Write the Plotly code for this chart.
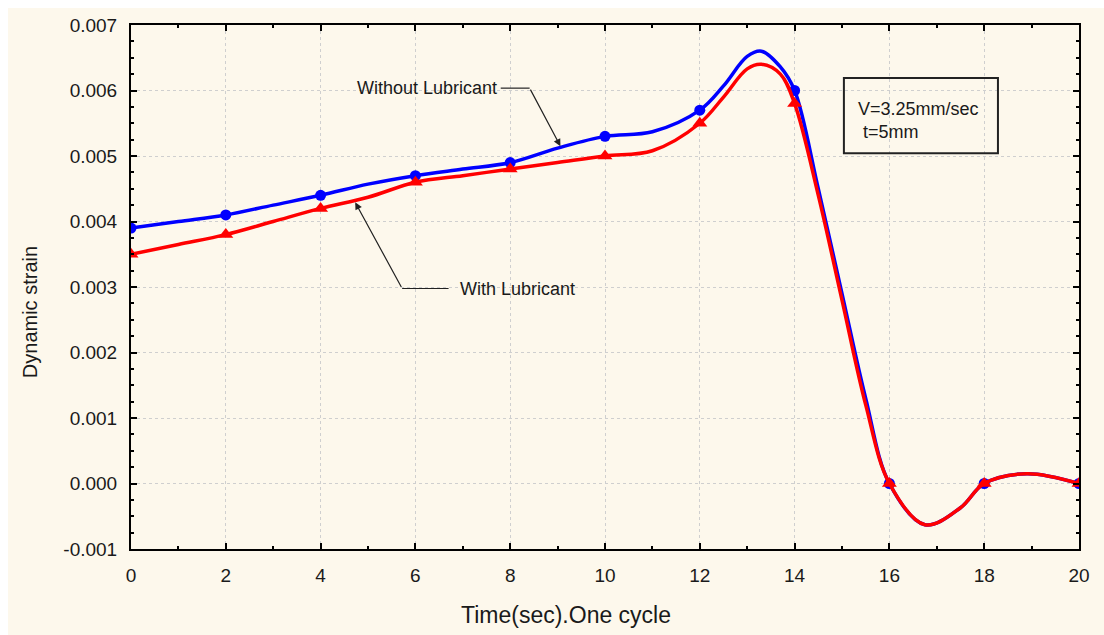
import plotly.graph_objects as go

# Measured points (markers)
marker_x = [0, 2, 4, 6, 8, 10, 12, 14, 16, 18, 20]
without_lub = [0.0039, 0.0041, 0.0044, 0.0047, 0.0049, 0.0053, 0.0057, 0.0060, 0.0, 0.0, 0.0]
with_lub = [0.0035, 0.0038, 0.0042, 0.0046, 0.0048, 0.0050, 0.0055, 0.0058, 0.0, 0.0, 0.0]

# Smoothed curve values
curve_x = [0, 1, 2, 3, 4, 5, 6, 7, 8, 9, 10, 11, 12, 12.5, 13, 13.3, 13.7, 14, 14.5, 15, 15.5,
           16, 16.75, 17.5, 18, 18.9, 20]
without_curve = [0.0039, 0.0040, 0.0041, 0.00425, 0.0044, 0.00457, 0.0047, 0.0048, 0.0049, 0.00512,
                 0.0053, 0.00537, 0.0057, 0.00607, 0.00652, 0.0066, 0.00636, 0.0060, 0.0045, 0.0029,
                 0.0013, 0.0, -0.00063, -0.00037, 0.0, 0.00015, 0.0]
with_curve = [0.0035, 0.00365, 0.0038, 0.0040, 0.0042, 0.00437, 0.0046, 0.0047, 0.0048, 0.0049,
              0.0050, 0.00508, 0.0055, 0.0059, 0.00633, 0.0064, 0.00625, 0.0058, 0.0044, 0.0028,
              0.0012, 0.0, -0.00063, -0.00037, 0.0, 0.00015, 0.0]

x_ticks = list(range(0, 21, 2))
y_ticks = [-0.001, 0.0, 0.001, 0.002, 0.003, 0.004, 0.005, 0.006, 0.007]
y_ticklabels = ["-0.001", "0.000", "0.001", "0.002", "0.003", "0.004", "0.005", "0.006", "0.007"]

BLUE = "#0000FF"
RED = "#FF0000"
FONT = "Liberation Sans, Arial, sans-serif"
TXT = "#1a1a1a"

fig = go.Figure()
fig.add_trace(go.Scatter(x=curve_x, y=without_curve, mode="lines",
                         line=dict(color=BLUE, width=3.5, shape="spline", smoothing=1.0),
                         showlegend=False, hoverinfo="skip"))
fig.add_trace(go.Scatter(x=marker_x, y=without_lub, mode="markers",
                         marker=dict(color=BLUE, size=11, symbol="circle"),
                         name="Without Lubricant", showlegend=False))
fig.add_trace(go.Scatter(x=curve_x, y=with_curve, mode="lines",
                         line=dict(color=RED, width=3.5, shape="spline", smoothing=1.0),
                         showlegend=False, hoverinfo="skip"))
fig.add_trace(go.Scatter(x=marker_x, y=with_lub, mode="markers",
                         marker=dict(color=RED, size=13, symbol="triangle-up"),
                         name="With Lubricant", showlegend=False))

axis_common = dict(
    showline=True, linecolor="black", linewidth=2, mirror="ticks",
    ticks="inside", ticklen=6, tickcolor="black", tickwidth=1.5,
    showgrid=True, gridcolor="#cfcfcf", griddash="dot", gridwidth=1,
    zeroline=False,
    tickfont=dict(family=FONT, size=19, color=TXT),
)

fig.update_xaxes(range=[0, 20], tickvals=x_ticks, **axis_common,
                 minor=dict(dtick=1, ticks="inside", ticklen=3, tickcolor="black", showgrid=False),
                 ticklabelstandoff=8)
fig.update_yaxes(range=[-0.001, 0.007], tickvals=y_ticks, ticktext=y_ticklabels, **axis_common,
                 minor=dict(dtick=0.00025, ticks="inside", ticklen=3, tickcolor="black", showgrid=False),
                 ticklabelstandoff=8)

shapes = [
    # cream background panel
    dict(type="rect", xref="paper", yref="paper", x0=-0.1297, x1=1.05, y0=-0.2, y1=1.0324,
         fillcolor="#FDF8EC", line=dict(width=0), layer="below"),
    # info box
    dict(type="rect", xref="x", yref="y", x0=15.04, x1=18.29, y0=0.005042, y1=0.006189,
         line=dict(color="#222222", width=2), fillcolor="rgba(0,0,0,0)"),
    # leader lines
    dict(type="line", xref="x", yref="y", x0=7.8, x1=8.41, y0=0.006036, y1=0.006036,
         line=dict(color="#222222", width=1.2)),
    dict(type="line", xref="x", yref="y", x0=5.72, x1=6.7, y0=0.002977, y1=0.002977,
         line=dict(color="#222222", width=1.2)),
]

annotations = [
    dict(x=6.25, y=0.006036, xref="x", yref="y", text="Without Lubricant", showarrow=False,
         font=dict(family=FONT, size=18, color=TXT)),
    dict(x=9.06, y=0.00515, xref="x", yref="y", ax=8.41, ay=0.006036, axref="x", ayref="y",
         text="", showarrow=True, arrowhead=2, arrowsize=1.2, arrowwidth=1.2, arrowcolor="#222222"),
    dict(x=8.15, y=0.002977, xref="x", yref="y", text="With Lubricant", showarrow=False,
         font=dict(family=FONT, size=18, color=TXT)),
    dict(x=4.73, y=0.004293, xref="x", yref="y", ax=5.72, ay=0.002977, axref="x", ayref="y",
         text="", showarrow=True, arrowhead=2, arrowsize=1.2, arrowwidth=1.2, arrowcolor="#222222"),
    dict(x=15.29, y=0.005547, xref="x", yref="y", xanchor="left", yanchor="middle", align="left",
         text="V=3.25mm/sec<br> t=5mm", showarrow=False,
         font=dict(family=FONT, size=18, color=TXT)),
    # axis titles
    dict(x=0.459, y=-0.126, xref="paper", yref="paper", xanchor="center", yanchor="middle",
         text="Time(sec).One cycle", showarrow=False,
         font=dict(family=FONT, size=23, color=TXT)),
    dict(x=-0.1065, y=0.452, xref="paper", yref="paper", xanchor="center", yanchor="middle",
         text="Dynamic strain", textangle=-90, showarrow=False,
         font=dict(family=FONT, size=20, color=TXT)),
]

fig.update_layout(
    width=1104, height=635,
    margin=dict(l=131, r=25, t=25, b=86),
    paper_bgcolor="white", plot_bgcolor="white",
    shapes=shapes, annotations=annotations,
    showlegend=False,
)

fig.write_html("out.html")
